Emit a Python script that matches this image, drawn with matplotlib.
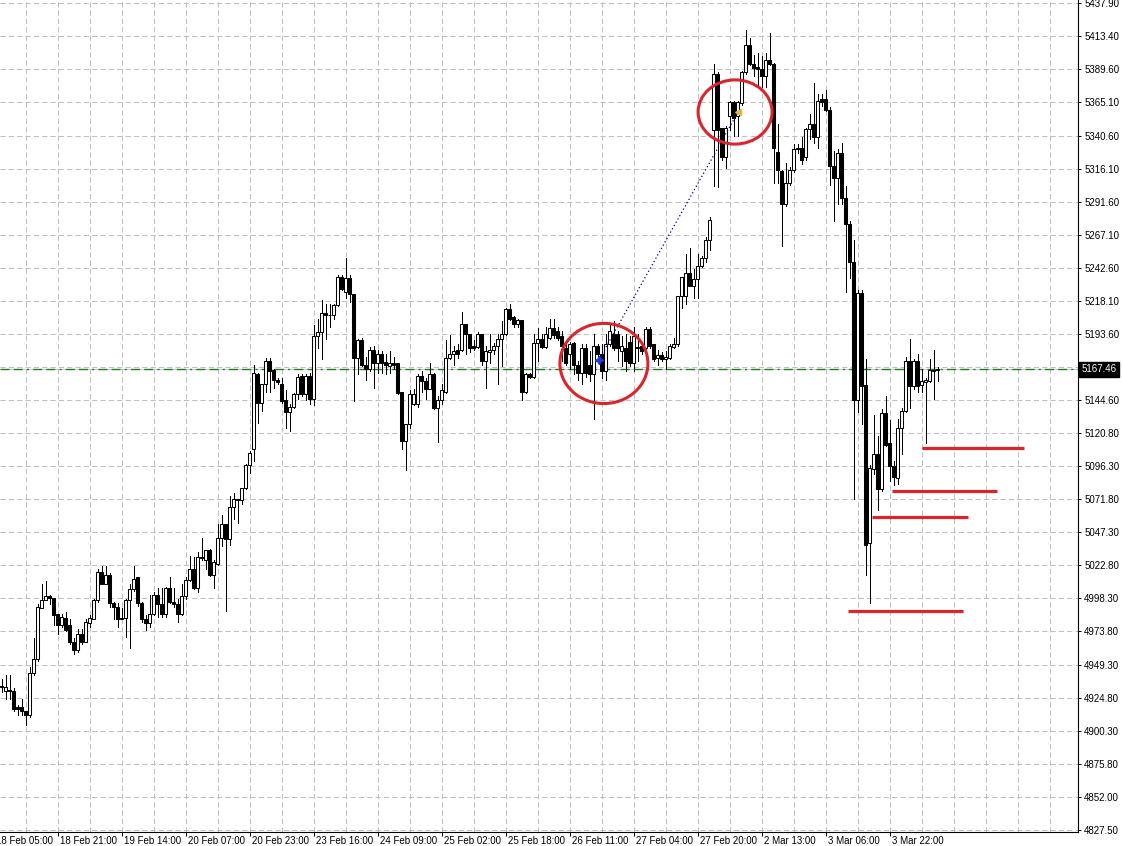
import matplotlib.pyplot as plt
from matplotlib.patches import Ellipse
import numpy as np

plt.rcParams['font.family'] = ['Liberation Sans', 'DejaVu Sans']

# H1 candles, 18 Feb 05:00 .. 3 Mar 23:00
opens = [
    4933, 4930, 4931, 4930, 4918, 4918, 4915, 4912, 4943, 4954,
    4991, 4997, 5000, 4999, 4987, 4979, 4984, 4979, 4966, 4960,
    4972, 4966, 4980, 4983, 4997, 5018, 5009, 5016, 4995, 4992,
    4983, 4984, 4997, 5005, 5014, 4995, 4983, 4980, 4987, 5001,
    4994, 4987, 5006, 4996, 4994, 4987, 5000, 5012, 5020, 5006,
    5029, 5027, 5034, 5016, 5024, 5043, 5053, 5042, 5066, 5072,
    5071, 5080, 5097, 5109, 5164, 5143, 5157, 5174, 5167, 5160,
    5157, 5145, 5136, 5140, 5149, 5163, 5149, 5163, 5146, 5192,
    5195, 5209, 5208, 5208, 5215, 5236, 5225, 5235, 5223, 5176,
    5189, 5171, 5168, 5182, 5172, 5179, 5173, 5170, 5172, 5172,
    5151, 5115, 5127, 5142, 5142, 5163, 5159, 5153, 5164, 5139,
    5145, 5151, 5176, 5179, 5182, 5182, 5201, 5194, 5185, 5184,
    5194, 5174, 5180, 5182, 5185, 5190, 5194, 5212, 5206, 5201,
    5204, 5151, 5164, 5162, 5187, 5190, 5184, 5191, 5198, 5196,
    5192, 5183, 5179, 5187, 5171, 5165, 5183, 5171, 5164, 5185,
    5179, 5166, 5186, 5194, 5194, 5181, 5183, 5188, 5172, 5183,
    5185, 5183, 5197, 5186, 5176, 5178, 5175, 5176, 5184, 5186,
    5222, 5222, 5239, 5229, 5234, 5244, 5250, 5263, 5344, 5386,
    5346, 5324, 5355, 5365, 5355, 5364, 5387, 5407, 5393, 5391,
    5389, 5384, 5396, 5393, 5328, 5314, 5290, 5305, 5315, 5330,
    5331, 5324, 5345, 5349, 5339, 5367, 5367, 5359, 5318, 5309,
    5327, 5294, 5275, 5247, 5145, 5224, 5156, 5039, 5094, 5105,
    5079, 5135, 5113, 5096, 5087, 5124, 5137, 5174, 5155, 5174,
    5156, 5158.5, 5159, 5167, 5167,
]
highs = [
    4939, 4942, 4942, 4932, 4920, 4924, 4915, 4948, 4969, 4994,
    5009, 5011, 5001, 4999, 4987, 4987, 4988, 4983, 4969, 4976,
    4976, 4983, 4986, 4998, 5020, 5022, 5022, 5017, 4996, 4995,
    4991, 4998, 5009, 5022, 5014, 4996, 4986, 5001, 5003, 5006,
    5006, 5007, 5014, 5006, 4998, 5009, 5014, 5030, 5029, 5033,
    5043, 5034, 5035, 5027, 5053, 5060, 5053, 5074, 5076, 5072,
    5080, 5098, 5107, 5171, 5165, 5157, 5176, 5176, 5168, 5161,
    5161, 5152, 5142, 5150, 5164, 5164, 5164, 5165, 5200, 5205,
    5219, 5216, 5216, 5216, 5237, 5237, 5250, 5237, 5223, 5190,
    5191, 5177, 5184, 5185, 5182, 5181, 5179, 5181, 5177, 5172,
    5151, 5127, 5152, 5153, 5164, 5166, 5161, 5172, 5165, 5148,
    5157, 5189, 5193, 5185, 5186, 5210, 5201, 5194, 5189, 5195,
    5194, 5185, 5194, 5187, 5194, 5203, 5213, 5216, 5207, 5205,
    5204, 5165, 5165, 5194, 5198, 5194, 5199, 5205, 5205, 5199,
    5196, 5187, 5188, 5188, 5174, 5186, 5186, 5181, 5194, 5186,
    5186, 5194, 5202, 5203, 5196, 5192, 5194, 5192, 5199, 5194,
    5188, 5199, 5199, 5186, 5182, 5180, 5181, 5186, 5191, 5222,
    5236, 5253, 5257, 5242, 5253, 5251, 5265, 5280, 5393, 5387,
    5346, 5347, 5366, 5366, 5366, 5388, 5418, 5412, 5400, 5401,
    5399, 5401, 5416, 5394, 5349, 5315, 5320, 5317, 5334, 5334,
    5339, 5346, 5356, 5379, 5371, 5371, 5374, 5361, 5329, 5330,
    5335, 5303, 5277, 5263, 5226, 5226, 5175, 5097, 5134, 5118,
    5138, 5148, 5130, 5100, 5131, 5139, 5177, 5190, 5175, 5179,
    5168, 5161, 5175, 5182, 5169,
]
lows = [
    4929, 4924, 4924, 4915, 4912, 4912, 4905, 4911, 4942, 4952,
    4991, 4997, 4994, 4979, 4972, 4977, 4974, 4965, 4957, 4959,
    4965, 4966, 4977, 4983, 4996, 5009, 5009, 4992, 4983, 4977,
    4983, 4970, 4962, 5004, 4993, 4981, 4975, 4977, 4986, 4985,
    4985, 4985, 4995, 4992, 4981, 4986, 4998, 5011, 5005, 5003,
    5027, 5020, 5015, 5006, 5023, 5037, 4989, 5038, 5057, 5054,
    5068, 5079, 5091, 5100, 5128, 5137, 5151, 5151, 5154, 5157,
    5143, 5124, 5122, 5139, 5146, 5148, 5145, 5142, 5141, 5183,
    5175, 5190, 5199, 5205, 5214, 5226, 5220, 5217, 5144, 5164,
    5170, 5160, 5166, 5154, 5165, 5165, 5164, 5165, 5168, 5149,
    5109, 5093, 5124, 5141, 5140, 5151, 5146, 5153, 5138, 5114,
    5142, 5150, 5175, 5171, 5176, 5181, 5179, 5180, 5182, 5183,
    5171, 5154, 5172, 5179, 5157, 5170, 5193, 5204, 5199, 5199,
    5145, 5150, 5161, 5161, 5174, 5183, 5183, 5190, 5191, 5189,
    5174, 5171, 5168, 5164, 5160, 5157, 5162, 5159, 5131, 5177,
    5161, 5160, 5185, 5182, 5174, 5170, 5166, 5170, 5166, 5174,
    5179, 5179, 5183, 5174, 5171, 5174, 5168, 5175, 5183, 5185,
    5213, 5216, 5229, 5220, 5220, 5243, 5247, 5256, 5303, 5302,
    5322, 5316, 5344, 5340, 5340, 5363, 5386, 5392, 5384, 5377,
    5376, 5376, 5392, 5305, 5305, 5259, 5288, 5304, 5313, 5327,
    5319, 5322, 5338, 5335, 5331, 5362, 5358, 5304, 5277, 5290,
    5290, 5225, 5235, 5072, 5136, 5127, 5016, 4995, 5090, 5064,
    5078, 5111, 5085, 5082, 5083, 5105, 5136, 5139, 5153, 5151,
    5151, 5113, 5158, 5146, 5159,
]
closes = [
    4934, 4933, 4930, 4917, 4917, 4915, 4912, 4943, 4954, 4992,
    4997, 5000, 4999, 4986, 4979, 4985, 4975, 4966, 4960, 4972,
    4966, 4981, 4984, 4997, 5018, 5009, 5016, 4995, 4992, 4983,
    4984, 4997, 5005, 5013, 4995, 4983, 4980, 4987, 5001, 4994,
    4987, 5006, 4996, 4994, 4987, 5000, 5012, 5020, 5006, 5029,
    5028, 5034, 5016, 5025, 5043, 5053, 5042, 5066, 5072, 5071,
    5080, 5097, 5106, 5165, 5143, 5157, 5174, 5166, 5160, 5158,
    5144, 5136, 5140, 5149, 5162, 5149, 5163, 5146, 5192, 5195,
    5209, 5208, 5208, 5215, 5236, 5227, 5235, 5223, 5176, 5189,
    5171, 5168, 5182, 5172, 5179, 5172, 5171, 5172, 5171, 5150,
    5115, 5127, 5149, 5149, 5163, 5159, 5153, 5164, 5139, 5145,
    5152, 5176, 5179, 5181, 5179, 5201, 5194, 5183, 5183, 5194,
    5174, 5181, 5182, 5185, 5190, 5194, 5212, 5205, 5201, 5204,
    5151, 5164, 5162, 5187, 5190, 5184, 5194, 5198, 5193, 5191,
    5185, 5172, 5186, 5171, 5165, 5183, 5165, 5164, 5185, 5179,
    5166, 5186, 5196, 5183, 5183, 5185, 5174, 5172, 5192, 5184,
    5181, 5197, 5185, 5175, 5178, 5175, 5177, 5185, 5186, 5222,
    5236, 5239, 5229, 5234, 5244, 5250, 5263, 5278, 5386, 5344,
    5324, 5346, 5365, 5353, 5365, 5387, 5407, 5393, 5390, 5389,
    5384, 5396, 5393, 5331, 5315, 5290, 5305, 5315, 5330, 5331,
    5322, 5345, 5349, 5339, 5366, 5365, 5359, 5318, 5309, 5327,
    5294, 5275, 5247, 5145, 5224, 5155, 5038, 5095, 5105, 5079,
    5135, 5112, 5096, 5088, 5124, 5137, 5174, 5155, 5174, 5155,
    5159, 5160, 5167, 5166, 5167.46,
]

bid = 5167.46

price_ticks = ['4827.50', '4852.00', '4875.80', '4900.30', '4924.80', '4949.30',
               '4973.80', '4998.30', '5022.80', '5047.30', '5071.80', '5096.30',
               '5120.80', '5144.60', '', '5193.60', '5218.10', '5242.60',
               '5267.10', '5291.60', '5316.10', '5340.60', '5365.10', '5389.60',
               '5413.40', '5437.90']
time_labels = ['18 Feb 05:00', '18 Feb 21:00', '19 Feb 14:00', '20 Feb 07:00',
               '20 Feb 23:00', '23 Feb 16:00', '24 Feb 09:00', '25 Feb 02:00',
               '25 Feb 18:00', '26 Feb 11:00', '27 Feb 04:00', '27 Feb 20:00',
               '2 Mar 13:00', '3 Mar 06:00', '3 Mar 22:00']
time_label_bars = [-2, 14, 30, 46, 62, 78, 94, 110, 126, 142, 158, 174, 190, 206, 222]

# objects drawn on the chart
support_levels = [5109.8, 5077.7, 5058.5, 4988.9]
support_from = [230.1, 222.6, 217.6, 211.6]
support_to = [255.6, 248.9, 241.6, 240.4]
circle_bar = [150.6, 183.4]
circle_price = [5171.9, 5357.6]
trade_bars = [149.3, 184.2]
trade_prices = [5174.4, 5357.9]

fig = plt.figure(figsize=(11.23, 8.46), dpi=100)
ax = fig.add_axes([0, 14 / 846, 1078 / 1123, 832 / 846])
ax.set_xlim(-0.375, 269.125)
ax.set_ylim(4825.9, 5440.3)

# grid
grid_y = np.linspace(4827.5, 5437.9, len(price_ticks))
for gy in grid_y:
    ax.axhline(gy, color='#c0c0c0', lw=0.75, ls=(0, (5, 3)), zorder=0)
for gx in np.arange(-2, 270, 8):
    ax.axvline(gx, color='#c0c0c0', lw=0.75, ls=(0, (5, 3)), zorder=0)

# candles
x = np.arange(len(closes))
o = np.array(opens, dtype=float)
c = np.array(closes, dtype=float)
ax.vlines(x, lows, highs, color='black', lw=0.6, antialiased=False, zorder=2)
body_col = np.where(c >= o, 'white', 'black')
ax.bar(x, c - o, bottom=o, width=0.55, color=body_col, edgecolor='black',
       linewidth=0.75, zorder=3)

# bid line
ax.axhline(bid, color='#b0b0b0', lw=0.5, zorder=1)
ax.axhline(bid, color='#1f7a1f', lw=1.0, ls=(0, (6.5, 3, 6.5, 3, 1.5, 3)), zorder=1)

# red levels and circles
ax.hlines(support_levels, support_from, support_to, color='#d7262e', lw=2.3, zorder=5)
ax.add_patch(Ellipse((circle_bar[0], circle_price[0]), 22, 59.2, fill=False,
                     ec='#d7262e', lw=2.2, zorder=6))
ax.add_patch(Ellipse((circle_bar[1], circle_price[1]), 18.5, 47.4, fill=False,
                     ec='#d7262e', lw=2.2, zorder=6))

# trade open / close
ax.plot(trade_bars, trade_prices, color='#00008b', lw=0.9, ls=(0, (1, 2)), zorder=4)
ax.plot(trade_bars[0], trade_prices[0], marker=(4, 1, 0), ms=6, color='#1c3cdc', zorder=7)
ax.plot(trade_bars[1], trade_prices[1], marker='<', ms=4.5, color='#e3b24a', zorder=7)

# axes look
for s in ['left', 'top']:
    ax.spines[s].set_visible(False)
for s in ['right', 'bottom']:
    ax.spines[s].set_linewidth(0.8)

ax.yaxis.tick_right()
ax.set_yticks(grid_y)
ax.set_yticklabels(price_ticks)
ax.tick_params(axis='y', direction='out', length=2.5, width=0.7, pad=2, labelsize=7)

ax.set_xticks([b for b in time_label_bars if b >= 0])
ax.set_xticklabels([])
ax.tick_params(axis='x', direction='out', length=3, width=0.7)
for b, lbl in zip(time_label_bars, time_labels):
    ax.annotate(lbl, (b, 0), xycoords=('data', 'axes fraction'), xytext=(1.5, -3),
                textcoords='offset points', ha='left', va='top', fontsize=7,
                annotation_clip=False)

ax.annotate(f'{bid:.2f}', (1, bid), xycoords=('axes fraction', 'data'),
            xytext=(2.5, 0), textcoords='offset points', ha='left', va='center',
            fontsize=7, color='white',
            bbox=dict(boxstyle='square,pad=0.25', fc='black', ec='black'))

fig.savefig('out.png', dpi=100)
